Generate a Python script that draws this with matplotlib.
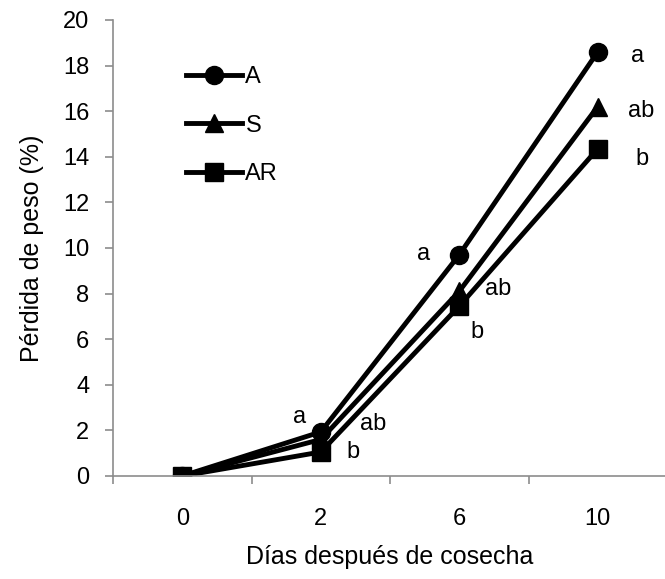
import matplotlib
matplotlib.use("Agg")
import matplotlib.pyplot as plt

plt.rcParams["font.family"] = ["Liberation Sans", "DejaVu Sans"]

dias = ["0", "2", "6", "10"]
perdida_A = [0.0, 1.93, 9.7, 18.6]
perdida_S = [0.0, 1.6, 8.1, 16.2]
perdida_AR = [0.0, 1.05, 7.45, 14.35]
series = [("A", perdida_A, "o"), ("S", perdida_S, "^"), ("AR", perdida_AR, "s")]

# letras de significancia: (posición x, y, texto)
letras = [
    (0.85, 2.6, "a"), (1.38, 2.3, "ab"), (1.23, 1.05, "b"),
    (1.74, 9.75, "a"), (2.28, 8.2, "ab"), (2.13, 6.3, "b"),
    (3.29, 18.4, "a"), (3.31, 16.0, "ab"), (3.32, 13.9, "b"),
]

fig = plt.figure(figsize=(6.65, 5.79), dpi=100)
ax = fig.add_axes([0.17, 0.178, 0.833, 0.7875])

x = list(range(len(dias)))
for nombre, vals, mk in series:
    ax.plot(x, vals, color="black", lw=3.5, marker=mk, markersize=13, label=nombre)

for xi, yi, t in letras:
    ax.text(xi, yi, t, fontsize=17, ha="center", va="center")

ax.set_xlim(-0.5, 3.5)
ax.set_ylim(0, 20)
ax.set_yticks(range(0, 21, 2))
ax.set_xticks(x)
ax.set_xticklabels(dias)
ax.set_xticks([-0.5, 0.5, 1.5, 2.5, 3.5], minor=True)
ax.tick_params(axis="x", which="major", length=0, labelsize=17, pad=23)
ax.tick_params(axis="x", which="minor", length=6, width=1.2, color="#8c8c8c")
ax.tick_params(axis="y", length=6, width=1.2, color="#8c8c8c", labelsize=17, pad=11)

for s in ("top", "right"):
    ax.spines[s].set_visible(False)
for s in ("left", "bottom"):
    ax.spines[s].set_color("#8c8c8c")
    ax.spines[s].set_linewidth(1.2)

ax.set_xlabel("Días después de cosecha", fontsize=18, labelpad=11)
ax.set_ylabel("Pérdida de peso (%)", fontsize=18, labelpad=14)

ax.legend(loc="upper left", bbox_to_anchor=(0.094, 0.945), frameon=False, fontsize=17,
          handlelength=2.35, handletextpad=0.15, labelspacing=1.12)

fig.savefig("out.png", dpi=100)
